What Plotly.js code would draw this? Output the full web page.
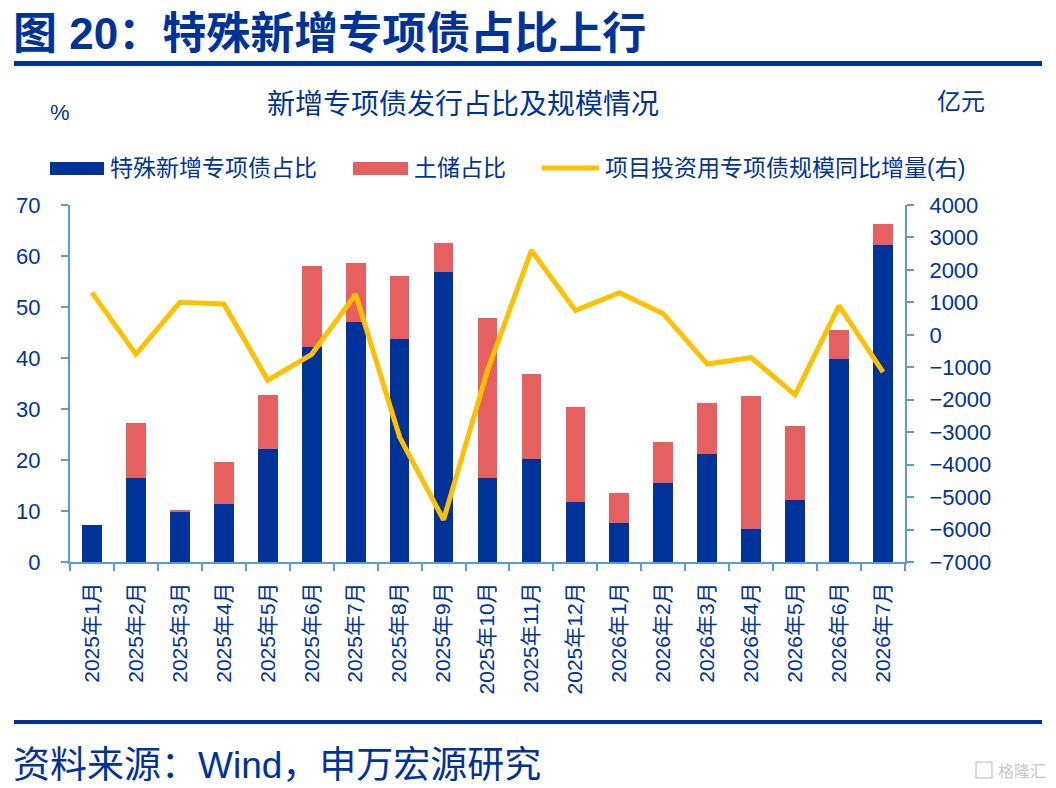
<!DOCTYPE html>
<html>
<head>
<meta charset="utf-8">
<script src="https://cdn.plot.ly/plotly-3.0.1.min.js"></script>
<style>
  body { margin: 0; background: #fff; }
  #chart { width: 1056px; height: 788px; }
</style>
</head>
<body>
<div id="chart"></div>
<script>
// data
const months = ['2025年1月', '2025年2月', '2025年3月', '2025年4月', '2025年5月', '2025年6月',
  '2025年7月', '2025年8月', '2025年9月', '2025年10月', '2025年11月', '2025年12月',
  '2026年1月', '2026年2月', '2026年3月', '2026年4月', '2026年5月', '2026年6月', '2026年7月'];
const specialShare = [7.3, 16.5, 9.9, 11.3, 22.1, 42.1, 47.1, 43.7, 56.9, 16.5,
  20.1, 11.7, 7.6, 15.4, 21.2, 6.5, 12.1, 39.9, 62.1];
const landShare = [0, 10.8, 0.3, 8.3, 10.7, 16.0, 11.6, 12.4, 5.6, 31.4,
  16.8, 18.7, 5.9, 8.1, 10.0, 26.1, 14.5, 5.5, 4.2];
const projectYoY = [1300, -600, 1000, 950, -1400, -600, 1250, -3150, -5700, -1100,
  2600, 750, 1300, 650, -900, -700, -1850, 900, -1150];

// colours and fonts
const navy = '#003399';
const red = '#e66060';
const gold = '#ffc000';
const axisBlue = '#5b9bd5';
const font = 'Liberation Sans, Noto Sans CJK SC, sans-serif';
const cjk = 'Noto Sans CJK SC, sans-serif';

// plot area in pixels
const L = 70, R = 905, T = 205, B = 562;
function px(x) { return (x - L) / (R - L); }
function py(y) { return (B - y) / (B - T); }

function label(text, x, y, size, anchor, extra) {
  return Object.assign({
    text: text, xref: 'paper', yref: 'paper', x: px(x), y: py(y),
    xanchor: anchor, yanchor: 'middle', showarrow: false,
    font: { family: font, size: size, color: navy }
  }, extra || {});
}

const traces = [
  {
    type: 'bar', x: months, y: specialShare, name: '特殊新增专项债占比',
    marker: { color: navy }
  },
  {
    type: 'bar', x: months, y: landShare, name: '土储占比',
    marker: { color: red }
  },
  {
    type: 'scatter', mode: 'lines', x: months, y: projectYoY, yaxis: 'y2',
    name: '项目投资用专项债规模同比增量(右)',
    line: { color: gold, width: 5 }
  }
];

const layout = {
  width: 1056, height: 788,
  margin: { l: L, r: 1056 - R, t: T, b: 788 - B, pad: 0 },
  paper_bgcolor: '#fff', plot_bgcolor: '#fff',
  barmode: 'stack', bargap: 0.55,
  showlegend: false,
  font: { family: font, color: navy },
  xaxis: {
    type: 'category', showline: true, linecolor: axisBlue, linewidth: 2,
    ticks: 'outside', tickson: 'boundaries', ticklen: 7, tickcolor: axisBlue, tickwidth: 2,
    tickangle: -90, tickfont: { size: 21, color: navy }, ticklabelstandoff: 10,
    showgrid: false, zeroline: false
  },
  yaxis: {
    range: [0, 70], dtick: 10, showline: true, linecolor: axisBlue, linewidth: 2,
    ticks: 'outside', ticklen: 7, tickcolor: axisBlue, tickwidth: 2,
    tickfont: { size: 22, color: navy }, ticklabelstandoff: 16,
    showgrid: false, zeroline: false
  },
  yaxis2: {
    overlaying: 'y', side: 'right', range: [-7000, 4000], dtick: 1000,
    showline: true, linecolor: axisBlue, linewidth: 2,
    ticks: 'outside', ticklen: 7, tickcolor: axisBlue, tickwidth: 2,
    tickfont: { size: 22, color: navy }, ticklabelstandoff: 11,
    showgrid: false, zeroline: false
  },
  shapes: [
    // rules under the heading and above the source
    { type: 'rect', xref: 'paper', yref: 'paper', x0: px(14), x1: px(1042), y0: py(61), y1: py(66),
      fillcolor: navy, line: { width: 0 } },
    { type: 'rect', xref: 'paper', yref: 'paper', x0: px(14), x1: px(1042), y0: py(720), y1: py(724),
      fillcolor: navy, line: { width: 0 } },
    // legend swatches
    { type: 'rect', xref: 'paper', yref: 'paper', x0: px(50), x1: px(104), y0: py(162), y1: py(175),
      fillcolor: navy, line: { width: 0 } },
    { type: 'rect', xref: 'paper', yref: 'paper', x0: px(353), x1: px(408), y0: py(162), y1: py(175),
      fillcolor: red, line: { width: 0 } },
    { type: 'line', xref: 'paper', yref: 'paper', x0: px(542), x1: px(599), y0: py(168), y1: py(168),
      line: { color: gold, width: 5 } },
    // little watermark box
    { type: 'rect', xref: 'paper', yref: 'paper', x0: px(976), x1: px(992), y0: py(762), y1: py(778),
      fillcolor: 'rgba(0,0,0,0)', line: { color: '#cfcfcf', width: 1.5 } }
  ],
  annotations: [
    label('<b>图 20：特殊新增专项债占比上行</b>', 11, 34, 44, 'left', { font: { family: font, size: 44, color: navy } }),
    label('新增专项债发行占比及规模情况', 463, 102, 28, 'center', { font: { family: cjk, size: 28, color: navy } }),
    label('%', 60, 112, 22, 'center'),
    label('亿元', 961, 100, 24, 'center', { font: { family: cjk, size: 24, color: navy } }),
    label('特殊新增专项债占比', 108, 168, 23, 'left'),
    label('土储占比', 412, 168, 23, 'left'),
    label('项目投资用专项债规模同比增量(右)', 603, 168, 23, 'left'),
    label('资料来源：Wind，申万宏源研究', 11, 765, 37, 'left'),
    label('格隆汇', 1048, 770, 16, 'right', { font: { family: cjk, size: 16, color: '#c8c8c8' } })
  ]
};

Plotly.newPlot('chart', traces, layout, { staticPlot: true });
</script>
</body>
</html>
